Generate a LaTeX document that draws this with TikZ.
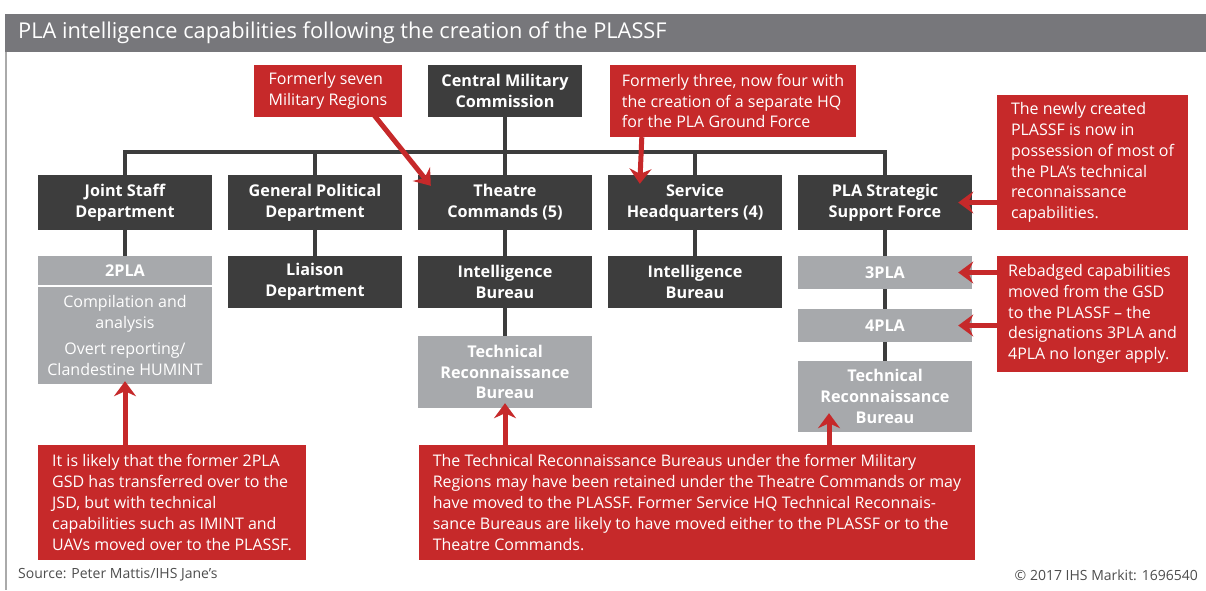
\documentclass[tikz,border=0pt]{standalone}
\usepackage{fontspec}
\setmainfont{Open Sans}
\usetikzlibrary{arrows.meta,calc}
\definecolor{barGrey}{RGB}{119,119,123}
\definecolor{orgDark}{RGB}{61,61,61}
\definecolor{unitGrey}{RGB}{167,169,172}
\definecolor{noteRed}{RGB}{198,41,42}
\definecolor{footGrey}{RGB}{77,77,77}
\definecolor{frameGrey}{RGB}{170,170,170}

\begin{document}
\begin{tikzpicture}[x=1pt, y=-1pt,
        org/.style={fill=orgDark, text=white, font=\fontsize{16.2}{20.8}\selectfont\bfseries, align=center, inner sep=0pt, minimum width=174pt, minimum height=55pt},
        unit/.style={fill=unitGrey, text=white, font=\fontsize{16.2}{20.8}\selectfont\bfseries, align=center, inner sep=0pt, minimum width=174pt},
        note/.style={fill=noteRed, text=white, font=\fontsize{16}{20.8}\selectfont, align=left, inner xsep=6pt, inner ysep=0pt},
        link/.style={draw=orgDark, line width=4pt},
        arrow/.style={draw=noteRed, line width=5pt, -{Stealth[length=15pt, width=22pt, inset=5pt]}},
    ]
        \useasboundingbox (0,0) rectangle (1206,590);

        % Title bar and frame
        \fill[barGrey] (5,14) rectangle (1206,52);
        \draw[frameGrey, line width=1.2pt] (6,52) -- (6,590);
        \node[anchor=west, text=white, font=\fontsize{21.8}{24}\selectfont, inner sep=0pt] (title) at (18,33) {PLA intelligence capabilities following the creation of the PLASSF};

        % Top row
        \node[org, minimum width=154pt, minimum height=52pt] (cmc) at (505,91) {Central Military\\Commission};
        \node[note, minimum width=148pt, minimum height=52pt] (seven) at (328,91) {Formerly seven\\Military Regions};
        \node[note, minimum width=246pt, minimum height=72pt] (three) at (733,101) {Formerly three, now four with\\the creation of a separate HQ\\for the PLA Ground Force};

        % Second row
        \node[org] (jsd) at (125,202.5) {Joint Staff\\Department};
        \node[org] (gpd) at (315,202.5) {General Political\\Department};
        \node[org] (tc) at (505,202.5) {Theatre\\Commands (5)};
        \node[org] (shq) at (695,202.5) {Service\\Headquarters (4)};
        \node[org] (ssf) at (885,202.5) {PLA Strategic\\Support Force};

        % Third row and below
        \node[unit, minimum height=29pt] (pla2) at (125,270.5) {2PLA};
        \node[unit, minimum height=97pt, font=\fontsize{16}{20.8}\selectfont] (pla2body) at (125,335.5) {Compilation and\\analysis\\[5pt]Overt reporting/\\Clandestine HUMINT};
        \node[org, minimum height=52pt] (lia) at (315,282) {Liaison\\Department};
        \node[org, minimum height=52pt] (ibtc) at (505,282) {Intelligence\\Bureau};
        \node[org, minimum height=52pt] (ibshq) at (695,282) {Intelligence\\Bureau};
        \node[unit, minimum height=33pt] (pla3) at (885,272.5) {3PLA};
        \node[unit, minimum height=33pt] (pla4) at (885,325.5) {4PLA};
        \node[unit, minimum height=72pt] (trbtc) at (505,372) {Technical\\Reconnaissance\\Bureau};
        \node[unit, minimum height=71pt] (trbssf) at (885,396.5) {Technical\\Reconnaissance\\Bureau};

        % Notes on the right
        \node[note, minimum width=191pt, minimum height=135pt] (newly) at (1092.5,162.5) {The newly created\\PLASSF is now in\\possession of most of\\the PLA's technical\\reconnaissance\\capabilities.};
        \node[note, minimum width=191pt, minimum height=116pt] (rebadged) at (1092.5,314) {Rebadged capabilities\\moved from the GSD\\to the PLASSF -- the\\designations 3PLA and\\4PLA no longer apply.};

        % Notes at the bottom
        \node[note, minimum width=268pt, minimum height=115pt] (jsdnote) at (172,502.5) {It is likely that the former 2PLA\\GSD has transferred over to the\\JSD, but with technical\\capabilities such as IMINT and\\UAVs moved over to the PLASSF.};
        \node[note, minimum width=556pt, minimum height=115pt] (trbnote) at (697,502.5) {The Technical Reconnaissance Bureaus under the former Military\\Regions may have been retained under the Theatre Commands or may\\have moved to the PLASSF. Former Service HQ Technical Reconnais-\\sance Bureaus are likely to have moved either to the PLASSF or to the\\Theatre Commands.};

        % Chain of command
        \coordinate (bus) at (505,152);
        \draw[link] (jsd.north) |- (bus) -| (ssf.north);
        \draw[link] (cmc) -- (tc);
        \foreach \n in {gpd, shq}
            \draw[link] (\n.north) -- (\n.north |- bus);
        \foreach \a/\b in {jsd/pla2, gpd/lia, tc/ibtc, shq/ibshq, ibtc/trbtc, ssf/pla3, pla3/pla4, pla4/trbssf}
            \draw[link] (\a) -- (\b);

        % Red pointers
        \coordinate (tiptc) at ($(tc.north west)+(13,11)$);
        \coordinate (tipshq) at ($(shq.north west)+(32,9)$);
        \coordinate (tipssf) at ($(trbssf.south)+(-56,-19)$);
        \draw[arrow] ($(seven.south west)!0.8!(seven.south east)+(0,-4)$) -- (tiptc);
        \draw[arrow] ([xshift=32pt]three.south west) -- (tipshq);
        \draw[arrow] (newly.west |- ssf.east) -- ($(ssf.east)+(-14,0)$);
        \foreach \u in {pla3, pla4}
            \draw[arrow] (rebadged.west |- \u.east) -- ($(\u.east)+(-14,0)$);
        \draw[arrow] (jsdnote.north -| pla2body.south) -- ($(pla2body.south)+(0,-3)$);
        \draw[arrow] (trbnote.north -| trbtc.south) -- ($(trbtc.south)+(0,-5)$);
        \draw[arrow] (trbnote.north -| tipssf) -- (tipssf);

        % Footer
        \node[anchor=west, text=footGrey, font=\fontsize{14}{16}\selectfont, inner sep=0pt] (source) at (18,575) {Source: Peter Mattis/IHS Jane's};
        \node[anchor=east, text=footGrey, font=\fontsize{14}{16}\selectfont, inner sep=0pt] (credit) at (1198,575) {© 2017 IHS Markit: 1696540};
    \end{tikzpicture}
\end{document}
